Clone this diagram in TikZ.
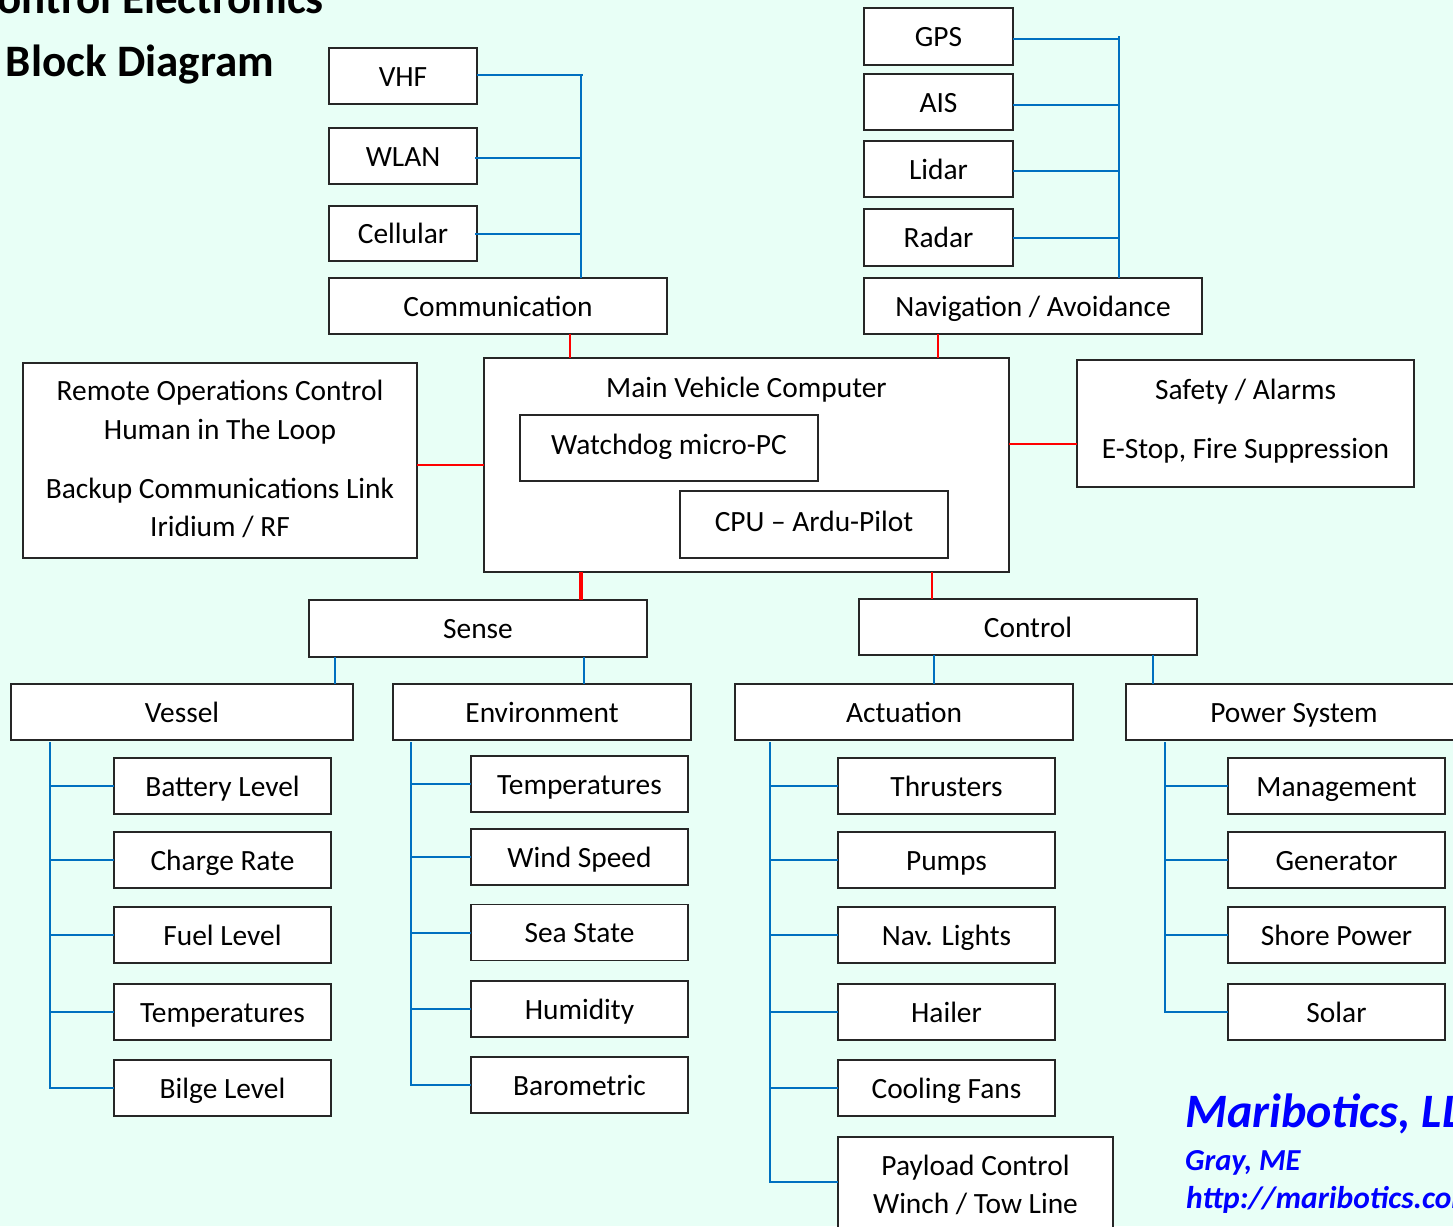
\documentclass[tikz,border=0pt]{standalone}
\usepackage{fontspec}
\setmainfont{Carlito}
\definecolor{mint}{RGB}{232,255,246}
\definecolor{lnblue}{RGB}{0,112,192}
\definecolor{lnred}{RGB}{255,0,0}
\definecolor{txblue}{RGB}{0,0,255}
\tikzset{
 box/.style={draw=black!85, line width=1.5pt, fill=white, inner sep=0pt, outer sep=0pt,
   font=\fontsize{29.4}{35}\selectfont, text height=28pt, text depth=8pt},
 lbl/.style={inner sep=0pt, font=\fontsize{29.4}{35}\selectfont, text height=28pt, text depth=8pt},
 bl/.style={draw=lnblue, line width=2pt},
 rl/.style={draw=lnred, line width=1.6pt},
 rlt/.style={draw=lnred, line width=3.5pt},
 ttl/.style={inner sep=0pt, anchor=base east, font=\bfseries\fontsize{45}{50}\selectfont},
 brand/.style={inner sep=0pt, anchor=base west, text=txblue},
}
\begin{document}
\begin{tikzpicture}[x=1pt,y=-1pt]
\useasboundingbox (0,0) rectangle (1453,1226);
\clip (0,0) rectangle (1453,1226);
\fill[mint] (0,0) rectangle (1453,1226);

% title
\node[ttl] (t1) at (324,13) {Control Electronics};
\node[ttl] (t2) at (274,76) {Block Diagram};

% communication group
\node[box, minimum width=148pt, minimum height=56pt] (vhf) at (403,76) {VHF};
\node[box, minimum width=148pt, minimum height=56pt] (wlan) at (403,156) {WLAN};
\node[box, minimum width=148pt, minimum height=55pt] (cell) at (403,233.5) {Cellular};
\node[box, minimum width=338pt, minimum height=56pt] (comm) at (498,306) {Communication};
\coordinate (cbus) at (581,75);
\draw[bl] (comm.north -| cbus) -- (cbus);
\draw[bl] ([yshift=1pt]vhf.east) -- ([yshift=1pt,xshift=2pt]vhf.east -| cbus);
\draw[bl] ([xshift=-2pt,yshift=-2pt]wlan.east) -- ([yshift=-2pt]wlan.east -| cbus);
\draw[bl] ([xshift=-2pt,yshift=-0.5pt]cell.east) -- ([yshift=-0.5pt]cell.east -| cbus);

% navigation group
\node[box, minimum width=149pt, minimum height=57pt] (gps) at (938.5,36.5) {GPS};
\node[box, minimum width=149pt, minimum height=56pt] (ais) at (938.5,102) {AIS};
\node[box, minimum width=149pt, minimum height=56pt] (lidar) at (938.5,169) {Lidar};
\node[box, minimum width=149pt, minimum height=57pt] (radar) at (938.5,237.5) {Radar};
\node[box, minimum width=338pt, minimum height=56pt] (nav) at (1033,306) {Navigation / Avoidance};
\coordinate (nbus) at (1119,36);
\draw[bl] (nav.north -| nbus) -- (nbus);
\draw[bl] ([yshift=-2.5pt]gps.east) -- ([yshift=-2.5pt]gps.east -| nbus);
\draw[bl] ([yshift=-3pt]ais.east) -- ([yshift=-3pt]ais.east -| nbus);
\draw[bl] ([yshift=-2pt]lidar.east) -- ([yshift=-2pt]lidar.east -| nbus);
\draw[bl] (radar.east) -- (radar.east -| nbus);

% main computer
\node[box, minimum width=525pt, minimum height=214pt] (main) at (746.5,465) {};
\node[lbl] (maint) at (746.5,387) {Main Vehicle Computer};
\node[box, minimum width=298pt, minimum height=66pt] (wd) at (669,448) {};
\node[lbl] (wdt) at (669,444) {Watchdog micro-PC};
\node[box, minimum width=268pt, minimum height=67pt] (cpu) at (814,524.5) {};
\node[lbl] (cput) at (814,521) {CPU -- Ardu-Pilot};

% remote ops
\node[box, minimum width=394pt, minimum height=195pt] (remote) at (220,460.5) {};
\node[lbl] (r1) at (220,390) {Remote Operations Control};
\node[lbl] (r2) at (220,429) {Human in The Loop};
\node[lbl] (r3) at (220,488) {Backup Communications Link};
\node[lbl] (r4) at (220,526) {Iridium / RF};

% safety
\node[box, minimum width=337pt, minimum height=127pt] (safe) at (1245.5,423.5) {};
\node[lbl] (s1) at (1245.5,389) {Safety / Alarms};
\node[lbl] (s2) at (1245.5,448) {E-Stop, Fire Suppression};

% red links
\draw[rl] ([xshift=72pt]comm.south) -- ([xshift=72pt]comm.south |- main.north);
\draw[rl] ([xshift=-95pt]nav.south) -- ([xshift=-95pt]nav.south |- main.north);
\draw[rl] (remote.east |- main.west) -- (main.west);
\draw[rl] ([yshift=-20.5pt]safe.west -| main.east) -- ([yshift=-20.5pt]safe.west);

% sense / control
\node[box, minimum width=338pt, minimum height=57pt] (sense) at (478,628.5) {Sense};
\node[box, minimum width=338pt, minimum height=56pt] (ctrl) at (1028,627) {Control};
\draw[rlt] ([xshift=103pt]sense.north |- main.south) -- ([xshift=103pt]sense.north);
\draw[rl] ([xshift=-96pt]ctrl.north |- main.south) -- ([xshift=-96pt]ctrl.north);

% second level
\node[box, minimum width=342pt, minimum height=56pt] (vessel) at (182,712) {Vessel};
\node[box, minimum width=298pt, minimum height=56pt] (env) at (542,712) {Environment};
\node[box, minimum width=338pt, minimum height=56pt] (act) at (904,712) {Actuation};
\node[box, minimum width=336pt, minimum height=56pt] (pow) at (1294,712) {Power System};
\draw[bl] (sense.south -| 335,0) -- (vessel.north -| 335,0);
\draw[bl] (sense.south -| 584,0) -- (env.north -| 584,0);
\draw[bl] (ctrl.south -| 934,0) -- (act.north -| 934,0);
\draw[bl] (ctrl.south -| 1153,0) -- (pow.north -| 1153,0);

% vessel children
\coordinate (vbus) at (50,742);
\foreach \n/\y/\t in {va/786/Battery Level, vb/860/Charge Rate, vc/935/Fuel Level, vd/1012/Temperatures, ve/1088/Bilge Level}{
  \node[box, minimum width=217pt, minimum height=56pt] (\n) at (222.5,\y) {\t};
  \draw[bl] (vbus |- \n.west) -- (\n.west);
}
\draw[bl] ([yshift=-2pt]vessel.south -| vbus) -- ([yshift=-1pt]vbus |- ve.west);

% environment children
\coordinate (ebus) at (411,742);
\foreach \n/\y/\t in {ea/784/Temperatures, eb/857/Wind Speed, ec/932.5/Sea State, ed/1009/Humidity, ee/1085/Barometric}{
  \node[box, minimum width=217pt, minimum height=56pt] (\n) at (579.5,\y) {\t};
  \draw[bl] (ebus |- \n.west) -- (\n.west);
}
\draw[bl] ([yshift=-2pt]env.south -| ebus) -- ([yshift=-1pt]ebus |- ee.west);

% actuation children
\coordinate (abus) at (770,742);
\foreach \n/\y/\t in {aa/786/Thrusters, ab/860/Pumps, ac/935/Nav. Lights, ad/1012/Hailer, ae/1088/Cooling Fans}{
  \node[box, minimum width=217pt, minimum height=56pt] (\n) at (946.5,\y) {\t};
  \draw[bl] (abus |- \n.west) -- (\n.west);
}
\node[box, minimum width=275pt, minimum height=103pt] (pay) at (975.5,1188.5) {};
\node[lbl] (p1) at (975.5,1165) {Payload Control};
\node[lbl] (p2) at (975.5,1203) {Winch / Tow Line};
\draw[bl] ([yshift=6.5pt]abus |- pay.west) -- ([yshift=6.5pt]pay.west);
\draw[bl] ([yshift=-2pt]act.south -| abus) -- ([yshift=5.5pt]abus |- pay.west);

% power children
\coordinate (pbus) at (1165,742);
\foreach \n/\y/\t in {pa/786/Management, pb/860/Generator, pc/935/Shore Power, pd/1012/Solar}{
  \node[box, minimum width=217pt, minimum height=56pt] (\n) at (1336.5,\y) {\t};
  \draw[bl] (pbus |- \n.west) -- (\n.west);
}
\draw[bl] ([yshift=-2pt]pow.south -| pbus) -- ([yshift=-1pt]pbus |- pd.west);

% brand
\node[brand, font=\bfseries\itshape\fontsize{48}{52}\selectfont] (m1) at (1185,1127) {Maribotics, LLC};
\node[brand, font=\bfseries\itshape\fontsize{30.5}{34}\selectfont] (m2) at (1185,1170) {Gray, ME};
\node[brand, font=\bfseries\itshape\fontsize{31.5}{34}\selectfont] (m3) at (1186,1208) {http://maribotics.com};
\end{tikzpicture}
\end{document}
